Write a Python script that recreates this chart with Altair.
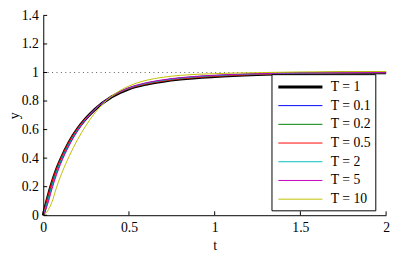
import altair as alt
import pandas as pd

# time samples
t = [0, 0.025, 0.05, 0.075, 0.1, 0.15, 0.2, 0.25, 0.3, 0.4, 0.5, 0.6, 0.7, 0.8, 1.0, 1.25, 1.5, 1.75, 2.0]

series_names = ["T = 1", "T = 0.1", "T = 0.2", "T = 0.5", "T = 2", "T = 5", "T = 10"]
series_colors = ["#000000", "#0000ff", "#008000", "#ff0000", "#00bfbf", "#bf00bf", "#bfbf00"]
series_widths = [3, 1, 1, 1, 1, 1, 1]

y_T1 = [0, 0.12, 0.224, 0.313, 0.386, 0.51, 0.605, 0.679, 0.74, 0.83, 0.886, 0.918, 0.939, 0.954, 0.972, 0.985, 0.992, 0.996, 0.998]
y_T01 = [0, 0.105, 0.21, 0.302, 0.378, 0.503, 0.6, 0.677, 0.739, 0.832, 0.889, 0.922, 0.943, 0.958, 0.976, 0.988, 0.994, 0.997, 0.999]
y_T02 = [0, 0.112, 0.217, 0.308, 0.382, 0.507, 0.603, 0.678, 0.74, 0.831, 0.888, 0.92, 0.941, 0.956, 0.974, 0.987, 0.993, 0.997, 0.998]
y_T05 = [0, 0.128, 0.232, 0.32, 0.392, 0.515, 0.609, 0.682, 0.742, 0.831, 0.887, 0.919, 0.94, 0.955, 0.973, 0.986, 0.993, 0.996, 0.998]
y_T2 = [0, 0.095, 0.2, 0.295, 0.372, 0.498, 0.598, 0.676, 0.739, 0.833, 0.891, 0.924, 0.945, 0.96, 0.978, 0.99, 0.995, 0.998, 0.999]
y_T5 = [0, 0.075, 0.18, 0.275, 0.355, 0.485, 0.59, 0.672, 0.738, 0.835, 0.894, 0.928, 0.949, 0.964, 0.981, 0.992, 0.997, 0.999, 1.0]
y_T10 = [0, 0.03, 0.09, 0.185, 0.27, 0.41, 0.53, 0.63, 0.715, 0.835, 0.905, 0.945, 0.967, 0.98, 0.992, 0.999, 1.004, 1.006, 1.007]

series_values = [y_T1, y_T01, y_T02, y_T05, y_T2, y_T5, y_T10]

ref_t = [0, 2]
ref_y = [1, 1]

x_ticks = [0, 0.5, 1, 1.5, 2]
y_ticks = [0, 0.2, 0.4, 0.6, 0.8, 1, 1.2, 1.4]

rows = []
for i, (name, vals) in enumerate(zip(series_names, series_values)):
    for tt, vv in zip(t, vals):
        rows.append({"t": tt, "y": vv, "T": name, "order": i})
df = pd.DataFrame(rows)

W, H = 350, 204
FONT = "Liberation Serif"
LBL = "datum.label + '\u00a0\u00a0\u00a0\u00a0'"
FMT = "format(datum.value, '~g')"

xs = alt.Scale(domain=[0, 2], nice=False, zero=False)
ys = alt.Scale(domain=[0, 1.4], nice=False, zero=False)

common = dict(grid=False, ticks=False, labelOverlap=False, labelFlush=False,
              labelFont=FONT, labelFontSize=14, labelColor="black",
              domainColor="black", domainWidth=1,
              titleFont=FONT, titleFontSize=14, titleFontWeight="normal", titleColor="black")

xaxis = alt.Axis(values=x_ticks, labelPadding=6, labelExpr=FMT,
                 title="t", titleY=24, titleBaseline="top", **common)
yaxis = alt.Axis(values=y_ticks, labelPadding=5, labelExpr=FMT,
                 title="y", titleX=-22, **common)

ref = alt.Chart(pd.DataFrame({"t": ref_t, "y": ref_y})).mark_line(
    color="#333333", strokeWidth=0.8, strokeDash=[1, 3.5]
).encode(x=alt.X("t:Q", scale=xs, axis=xaxis), y=alt.Y("y:Q", scale=ys, axis=yaxis))

lines = alt.Chart(df).mark_line(interpolate="monotone").encode(
    x=alt.X("t:Q", scale=xs, axis=xaxis),
    y=alt.Y("y:Q", scale=ys, axis=yaxis),
    color=alt.Color("T:N", scale=alt.Scale(domain=series_names, range=series_colors),
                    legend=alt.Legend(title=None, labelExpr=LBL)),
    strokeWidth=alt.StrokeWidth("T:N", scale=alt.Scale(type="ordinal", domain=series_names, range=series_widths),
                                legend=alt.Legend(title=None, labelExpr=LBL)),
    order="order:Q",
)

xt = alt.Chart(pd.DataFrame({"t": x_ticks})).mark_rule(color="black", strokeWidth=1).encode(
    x=alt.X("t:Q", scale=xs, axis=xaxis), y=alt.value(H), y2=alt.value(H - 4))
yt = alt.Chart(pd.DataFrame({"y": y_ticks})).mark_rule(color="black", strokeWidth=1).encode(
    y=alt.Y("y:Q", scale=ys, axis=yaxis), x=alt.value(0), x2=alt.value(4))

chart = alt.layer(ref, lines, xt, yt).properties(
    width=W, height=H,
    autosize=alt.AutoSizeParams(type="none"),
    padding={"left": 36, "top": 5, "right": 4, "bottom": 36},
).configure_view(stroke=None).configure_legend(
    orient="none", legendX=233, legendY=60,
    strokeColor="black", fillColor="white", padding=4, cornerRadius=0,
    symbolType="M-3,0H3", symbolSize=225, symbolOffset=16.5, labelOffset=22,
    rowPadding=4.1, labelFont=FONT, labelFontSize=14, labelColor="black",
)

chart.save("out.html", embed_options={"renderer": "svg", "actions": False})
